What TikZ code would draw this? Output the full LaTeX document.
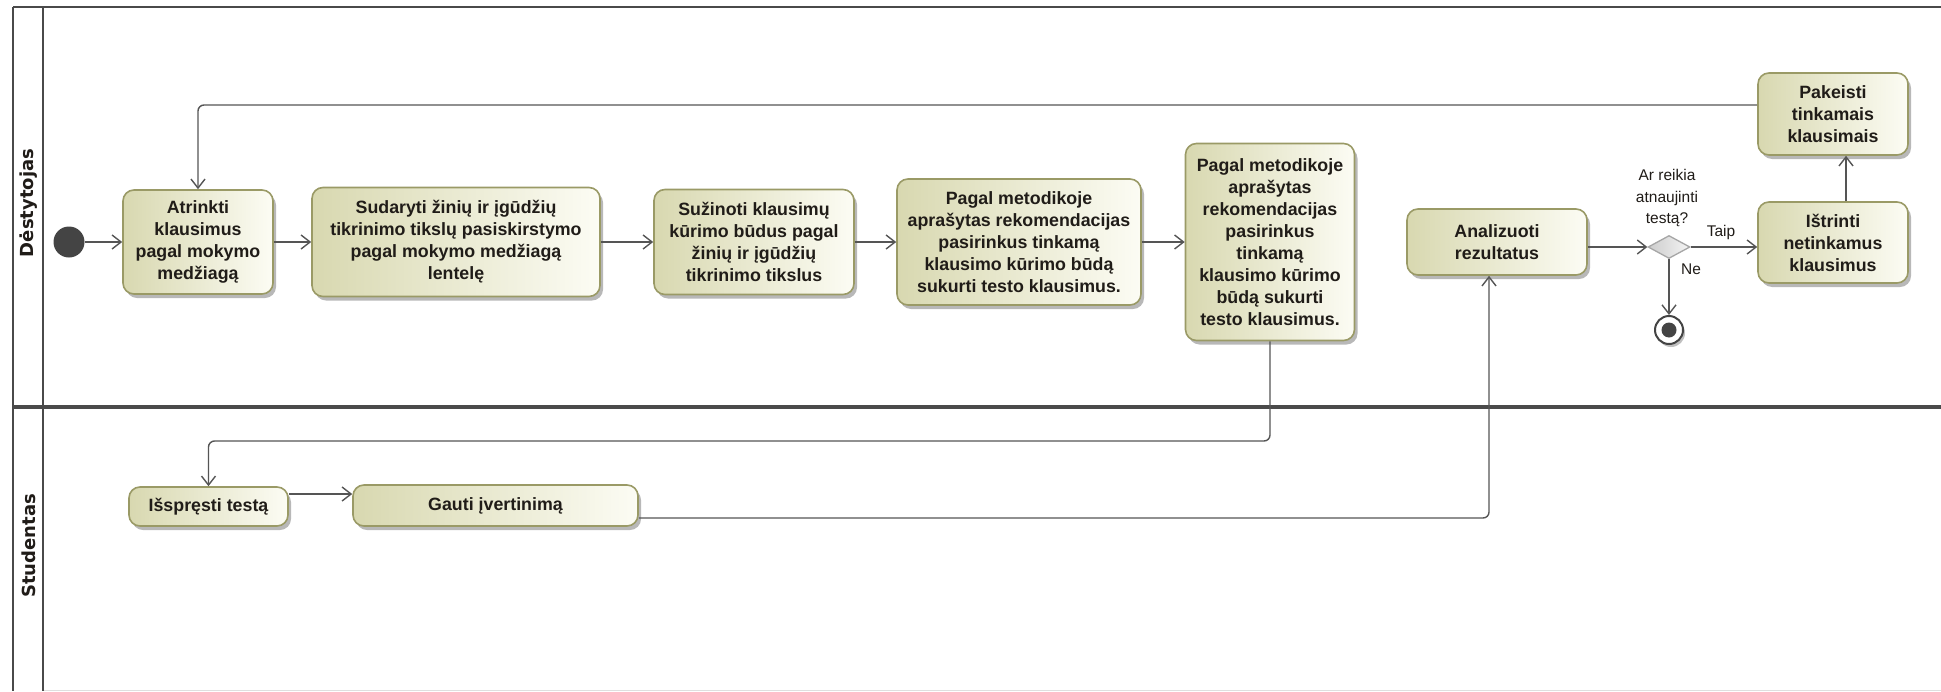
\documentclass[tikz,border=0pt]{standalone}
\usepackage{fontspec}
\setmainfont{Liberation Sans}
\newfontfamily\lanefont{DejaVu Sans}
\usetikzlibrary{arrows.meta,shapes.geometric,shadows,shadings}

\definecolor{lanegray}{HTML}{4A4A4A}
\definecolor{flowgray}{HTML}{555555}
\definecolor{actborder}{HTML}{9A9A66}
\definecolor{actleft}{HTML}{D8D8B0}
\definecolor{actright}{HTML}{FCFCF4}
\definecolor{txt}{HTML}{201C18}
\definecolor{dotgray}{HTML}{444444}

\tikzset{
  action/.style={rounded corners=11pt, draw=actborder, line width=1.6pt,
    left color=actleft, right color=actright, text=txt,
    font=\bfseries\fontsize{17.8}{22}\selectfont, align=center, inner sep=0pt,
    drop shadow={shadow xshift=3pt, shadow yshift=-4pt, fill=black, opacity=0.28}},
  flow/.style={draw=flowgray, line width=1.4pt, rounded corners=6pt,
    -{Straight Barb[length=9pt,width=14pt]}},
  lane/.style={draw=lanegray, line width=2.6pt},
  lbl/.style={font=\fontsize{15.5}{21.5}\selectfont, text=txt, align=center, inner sep=0pt},
  lanelabel/.style={rotate=90, font=\lanefont\bfseries\fontsize{18}{20}\selectfont, text=txt, inner sep=0pt},
}

\begin{document}
\begin{tikzpicture}[x=1pt,y=-1pt]
\useasboundingbox (0,0) rectangle (1941,691);
\fill[white] (0,0) rectangle (1941,691);

% swimlane frame
\draw[gray!25, line width=1pt] (43,690) -- (1941,690);
\draw[lane] (13,7) -- (1941,7);
\draw[lane] (13,7) -- (13,691);
\draw[lane] (43,7) -- (43,691);
\draw[lane, line width=4pt] (13,407) -- (1941,407);

\node[lanelabel] (laneT) at (29,203) {Dėstytojas};
\node[lanelabel] (laneS) at (29,546) {Studentas};

% helper rows for connector routing
\coordinate (toprow) at (0,105);
\coordinate (studrow) at (0,441);
\coordinate (r1) at (0,494);
\coordinate (r2) at (1489,518);

% initial node
\node[circle, fill=dotgray, minimum size=31pt, inner sep=0pt] (start) at (69,242) {};

% actions of the teacher
\node[action, minimum width=150pt, minimum height=104pt] (b1) at (198,242)
  {Atrinkti\\klausimus\\pagal mokymo\\medžiagą};
\node[action, minimum width=288pt, minimum height=109pt] (b2) at (456,242)
  {Sudaryti žinių ir įgūdžių\\tikrinimo tikslų pasiskirstymo\\pagal mokymo medžiagą\\lentelę};
\node[action, minimum width=200pt, minimum height=105pt] (b3) at (754,242)
  {Sužinoti klausimų\\kūrimo būdus pagal\\žinių ir įgūdžių\\tikrinimo tikslus};
\node[action, minimum width=244pt, minimum height=126pt] (b4) at (1019,242)
  {Pagal metodikoje\\aprašytas rekomendacijas\\pasirinkus tinkamą\\klausimo kūrimo būdą\\sukurti testo klausimus.};
\node[action, minimum width=169pt, minimum height=197pt] (b5) at (1270,242)
  {Pagal metodikoje\\aprašytas\\rekomendacijas\\pasirinkus\\tinkamą\\klausimo kūrimo\\būdą sukurti\\testo klausimus.};
\node[action, minimum width=180pt, minimum height=66pt] (anal) at (1497,242)
  {Analizuoti\\rezultatus};
\node[action, minimum width=150pt, minimum height=82pt] (pak) at (1833,114)
  {Pakeisti\\tinkamais\\klausimais};
\node[action, minimum width=150pt, minimum height=81pt] (ist) at (1833,242.5)
  {Ištrinti\\netinkamus\\klausimus};

% decision and final node
\node[diamond, draw=gray!70, line width=1.3pt, left color=gray!40, right color=gray!8,
  minimum width=42pt, minimum height=23pt, inner sep=0pt] (dec) at (1669,247) {};
\node[circle, draw=dotgray, line width=2pt, fill=white, minimum size=28pt, inner sep=0pt,
  drop shadow={shadow xshift=2pt, shadow yshift=-3pt, fill=black, opacity=0.25}] (fin) at (1669,330) {};
\node[circle, fill=dotgray, minimum size=15pt, inner sep=0pt] (findot) at (fin) {};

% actions of the student
\node[action, minimum width=159pt, minimum height=39pt] (isp) at (208.5,506.5)
  {Išspręsti testą};
\node[action, minimum width=285pt, minimum height=41pt] (gauti) at (495.5,505.5)
  {Gauti įvertinimą};

% labels
\node[lbl] (q) at (1667,198) {Ar reikia\\atnaujinti\\testą?};
\node[lbl] (taip) at (1721,232) {Taip};
\node[lbl] (ne) at (1691,269) {Ne};

% control flows
\draw[flow] (start) -- (b1);
\draw[flow] (b1) -- (b2);
\draw[flow] (b2) -- (b3);
\draw[flow] (b3) -- (b4);
\draw[flow] (b4) -- (b5);
\draw[flow] (b5.south) -- (b5.south |- studrow) -| (isp.north);
\draw[flow] (isp.east |- r1) -- (gauti.west |- r1);
\draw[flow] (gauti.east |- r2) -| (anal.south -| r2);
\draw[flow] (anal.east |- dec) -- (dec.west);
\draw[flow] (dec.east) -- (dec -| ist.west);
\draw[flow] (dec.south) -- (fin.north);
\draw[flow] ([xshift=13pt]ist.north) -- ([xshift=13pt]pak.south);
\draw[flow] (toprow -| pak.west) -| (b1.north);
\end{tikzpicture}
\end{document}
